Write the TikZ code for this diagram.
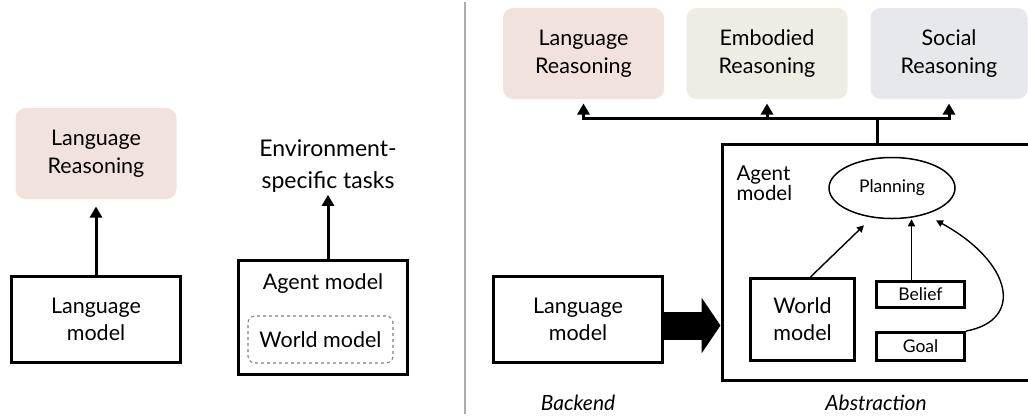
\documentclass[tikz,border=0pt]{standalone}
\usepackage{fontspec}
\setmainfont{Lato}
\usetikzlibrary{arrows.meta,shapes.geometric}

\definecolor{langpink}{RGB}{242,226,222}
\definecolor{bodybeige}{RGB}{239,236,228}
\definecolor{socialgray}{RGB}{231,232,238}

\tikzset{
  task/.style={rounded corners=10pt, minimum width=161pt, minimum height=91pt, align=center, font=\fontsize{21.5}{28}\selectfont},
  modelbox/.style={draw, line width=3pt, align=center, font=\fontsize{21.5}{27}\selectfont},
  smallbox/.style={draw, line width=2.8pt, minimum width=88pt, font=\fontsize{17.5}{20}\selectfont},
  thinarrow/.style={line width=1.4pt, -{Triangle[length=7pt,width=7pt]}},
}

\begin{document}
\begin{tikzpicture}[x=1pt, y=-1pt, line width=3pt, arrows={-Triangle[length=11pt,width=12pt]}]
	\useasboundingbox (0,0) rectangle (1028,416);

	% left half: language model alone, agent model alone
	\node[task, fill=langpink] (lrL) at (96,153.5) {Language\\Reasoning};
	\node[modelbox, minimum width=169pt, minimum height=86pt] (lmL) at (96,319.5) {Language\\model};
	\node[align=center, font=\fontsize{23}{32}\selectfont, inner sep=1pt] (envT) at (328,166) {Environment-\\specific tasks};
	\node[draw, line width=3pt, minimum width=169pt, minimum height=114pt] (agL) at (323,317.5) {};
	\node[font=\fontsize{21.5}{24}\selectfont] (agLt) at (323,284) {Agent model};
	\node[draw=gray, dashed, line width=1.1pt, rounded corners=7pt, minimum width=145pt, minimum height=47pt, font=\fontsize{21.5}{24}\selectfont] (wmL) at (320.5,339.5) {World model};

	\draw[shorten >=6pt] (lmL.north) -- (lrL.south);
	\draw (envT.south |- agL.north) -- (envT.south);

	% divider
	\draw[-, gray!65, line width=1.2pt] (465,2) -- (465,414);

	% right half
	\node[task, fill=langpink] (lrR) at (583.5,53.5) {Language\\Reasoning};
	\node[task, fill=bodybeige] (erR) at (767,53.5) {Embodied\\Reasoning};
	\node[task, fill=socialgray, minimum width=157pt] (srR) at (949,53.5) {Social\\Reasoning};

	\node[modelbox, minimum width=169pt, minimum height=86pt] (lmR) at (578,319.5) {Language\\model};
	\node[draw, line width=3pt, minimum width=318pt, minimum height=236pt] (agR) at (881,262) {};
	\node[align=left, anchor=west, font=\fontsize{20.5}{20}\selectfont, inner sep=0pt] (agRt) at (735,183) {Agent\\model};

	\node[ellipse, draw, line width=1.5pt, minimum width=126pt, minimum height=61pt, font=\fontsize{17.5}{20}\selectfont] (plan) at (892,188) {Planning};
	\node[modelbox, minimum width=104pt, minimum height=82pt] (wm) at (802.5,319.5) {World\\model};
	\node[smallbox, minimum height=26pt] (bel) at (920.5,294.5) {Belief};
	\node[smallbox, minimum height=28pt] (goal) at (920.5,346.5) {Goal};

	\coordinate (bus) at (877,118);
	\draw[-] (bus |- agR.north) -- (bus);
	\draw[shorten >=3pt] (bus) -| (lrR.south);
	\draw[shorten >=3pt] (bus) -| (srR.south);
	\draw[shorten >=3pt] (bus -| erR.south) -- (erR.south);

	\draw[line width=28pt, -{Triangle[length=19pt,width=55pt]}] ([yshift=-6pt]lmR.east) -- ([yshift=-6pt]lmR.east -| agR.west);

	\draw[thinarrow] ([xshift=8pt]wm.north) -- ([xshift=-28pt, yshift=-6pt]plan.south);
	\draw[thinarrow] ([xshift=-9pt]bel.north) -- ([xshift=-9pt]bel.north |- plan.south);
	\draw[thinarrow] (goal.north east) .. controls (1025,320) and (1012,262) .. ([xshift=44pt, yshift=-1pt]plan.south);

	\node[font=\itshape\fontsize{21}{20}\selectfont] (bk) at (578,403) {Backend};
	\node[font=\itshape\fontsize{21}{20}\selectfont] (ab) at (876,403) {Abstraction};
\end{tikzpicture}
\end{document}
